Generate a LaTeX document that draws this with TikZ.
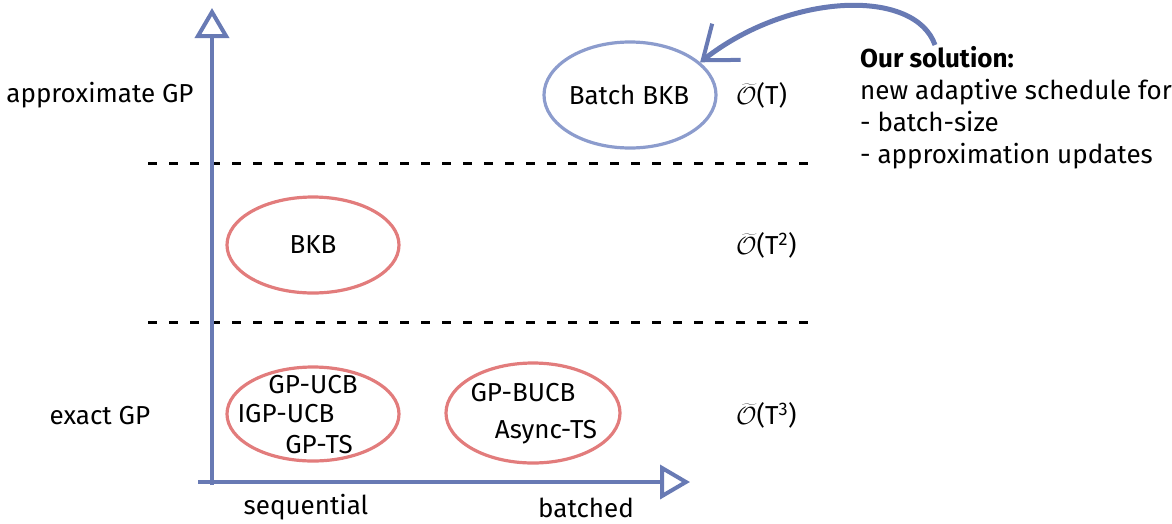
\documentclass[tikz,border=0pt]{standalone}
\usepackage{fontspec}
\setmainfont{Fira Sans}
\usetikzlibrary{shapes.geometric,arrows.meta}
\definecolor{axisblue}{RGB}{104,122,180}
\definecolor{lightblue}{RGB}{140,156,205}
\definecolor{softred}{RGB}{226,124,124}
\tikzset{
  lbl/.style={font=\fontsize{26}{32}\selectfont, inner sep=0pt},
  oval/.style={ellipse, draw, line width=3.2pt, inner sep=0pt},
  axis/.style={draw=axisblue, line width=4pt, -{Triangle[open,length=30pt,width=34pt,line width=4pt]}},
  sep/.style={draw=black, line width=3pt, dash pattern=on 9pt off 12pt},
}
\newcommand{\Otil}{$\widetilde{\mathcal{O}}$}
\begin{document}
\begin{tikzpicture}[x=1pt,y=-1pt]
\useasboundingbox (0,0) rectangle (1172,523);
% separators
\coordinate (s1a) at (148,163); \coordinate (s1b) at (812,163);
\coordinate (s2a) at (148,322); \coordinate (s2b) at (812,322);
\draw[sep] (s1a) -- (s1b);
\draw[sep] (s2a) -- (s2b);
% axes
\coordinate (origin) at (212,485);
\coordinate (ytop) at (212,8);
\coordinate (xstart) at (198,482);
\coordinate (xend) at (690,482);
\draw[axis] (origin) -- (ytop);
\draw[axis] (xstart) -- (xend);
% ellipses
\node[oval, draw=lightblue, minimum width=172pt, minimum height=106pt] (bb) at (630,95) {};
\node[oval, draw=softred, minimum width=172pt, minimum height=96pt] (bkb) at (313,245) {};
\node[oval, draw=softred, minimum width=172pt, minimum height=94pt] (seq) at (313,414) {};
\node[oval, draw=softred, minimum width=174pt, minimum height=100pt] (bat) at (533,413) {};
% ellipse texts
\node[lbl] (tbb) at (629,95) {Batch BKB};
\node[lbl] (tbkb) at (313,245) {BKB};
\node[lbl] (t1) at (313,385) {GP-UCB};
\node[lbl] (t2) at (286,414) {IGP-UCB};
\node[lbl] (t3) at (319,445) {GP-TS};
\node[lbl] (t4) at (523,393) {GP-BUCB};
\node[lbl] (t5) at (546,432) {Async-TS};
% axis labels
\node[lbl] (ag) at (100,95) {approximate GP};
\node[lbl] (eg) at (100,416) {exact GP};
\node[lbl] (sq) at (306,507) {sequential};
\node[lbl] (bt) at (586,508) {batched};
% complexities
\node[lbl, anchor=west] (c1) at (736,95) {\Otil(T)};
\node[lbl, anchor=west] (c2) at (736,245) {\Otil(T\textsuperscript{2})};
\node[lbl, anchor=west] (c3) at (736,415) {\Otil(T\textsuperscript{3})};
% solution text
\node[lbl, anchor=west, align=left] (sol) at (860,108)
  {\textbf{Our solution:}\\new adaptive schedule for\\- batch-size\\- approximation updates};
\coordinate (arrstart) at (935,45);
\draw[axisblue, line width=5pt, -{Straight Barb[length=30pt,width=46pt,line width=4pt]}]
  (arrstart) .. controls (915,-12) and (790,-8) .. (bb.25);
\end{tikzpicture}
\end{document}
